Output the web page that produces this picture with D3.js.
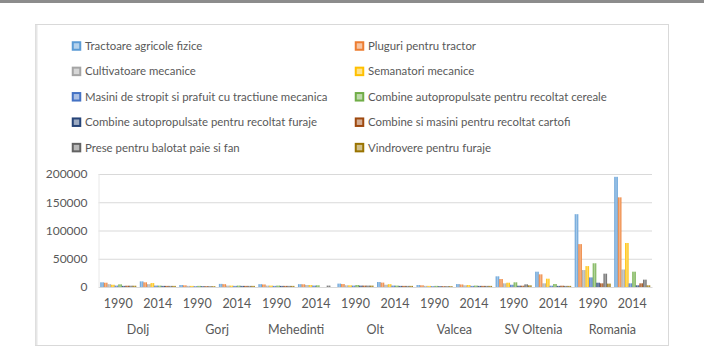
<!DOCTYPE html>
<html>
<head>
<meta charset="utf-8">
<script src="https://cdn.jsdelivr.net/npm/d3@7"></script>
<style>
  body { margin: 0; background: #fff; }
  text { font-family: Lato, "Open Sans", sans-serif; fill: #595959; }
</style>
</head>
<body>
<svg id="chart" width="704" height="348"></svg>
<script>
// categories: region + year
var regions = ['Dolj', 'Gorj', 'Mehedinti', 'Olt', 'Valcea', 'SV Oltenia', 'Romania'];
var years = ['1990', '2014'];
var seriesNames = [
    'Tractoare agricole fizice', 'Pluguri pentru tractor',
    'Cultivatoare mecanice', 'Semanatori mecanice',
    'Masini de stropit si prafuit cu tractiune mecanica', 'Combine autopropulsate pentru recoltat cereale',
    'Combine autopropulsate pentru recoltat furaje', 'Combine si masini pentru recoltat cartofi',
    'Prese pentru balotat paie si fan', 'Vindrovere pentru furaje'
];
var colors = ['#5b9bd5', '#ed7d31', '#a5a5a5', '#ffc000', '#4472c4', '#70ad47', '#264478', '#9e480e', '#636363', '#997300'];
var yTicks = [0, 50000, 100000, 150000, 200000];

// values per series, order: Dolj 1990, Dolj 2014, Gorj 1990, Gorj 2014, Mehedinti 1990, Mehedinti 2014,
// Olt 1990, Olt 2014, Valcea 1990, Valcea 2014, SV Oltenia 1990, SV Oltenia 2014, Romania 1990, Romania 2014
var tractoare    = [8300, 10000, 3500, 5500, 5000, 5000, 6000, 8800, 3500, 5200, 18900, 27100, 128900, 195000];
var pluguri      = [7600, 8300, 3000, 5000, 4500, 4800, 5200, 7800, 3000, 4500, 14100, 22400, 75900, 158700];
var cultivatoare = [5000, 5000, 2000, 2500, 2500, 3500, 3000, 4000, 2000, 3000, 6500, 6500, 30000, 31000];
var semanatori   = [4000, 7000, 2000, 2500, 2500, 3500, 3000, 5000, 2000, 3500, 7600, 14700, 37000, 77900];
var stropit      = [2500, 2500, 1500, 2000, 2000, 2500, 2500, 2500, 1500, 2000, 4000, 2300, 17000, 6500];
var cereale      = [4700, 2500, 2000, 2500, 2500, 3000, 3500, 2500, 2000, 2500, 8300, 5300, 42000, 27100];
var furaje       = [2000, 2000, 1500, 2000, 2000, 0, 2500, 2000, 1500, 2000, 2300, 2000, 7600, 3000];
var cartofi      = [2300, 2000, 1500, 2000, 2000, 0, 2500, 2000, 1500, 2000, 2300, 2300, 6500, 6500];
var prese        = [2300, 2000, 1500, 2000, 2000, 2500, 2500, 2000, 1500, 2000, 4700, 2000, 23600, 13000];
var vindrovere   = [2300, 2000, 1500, 2000, 2000, 0, 2500, 2000, 1500, 2000, 3000, 2000, 6000, 3000];
var seriesValues = [tractoare, pluguri, cultivatoare, semanatori, stropit, cereale, furaje, cartofi, prese, vindrovere];

var svg = d3.select('#chart');

// top rule and outer frame
svg.append('rect').attr('x', 0).attr('y', 0).attr('width', 704).attr('height', 3).attr('fill', '#8c8c8c');
svg.append('rect').attr('x', 35.5).attr('y', 24.5).attr('width', 633).attr('height', 321)
    .attr('fill', '#fff').attr('stroke', '#d9d9d9');
svg.append('line').attr('x1', 36.5).attr('x2', 36.5).attr('y1', 25).attr('y2', 345).attr('stroke', '#e6e6e6').attr('stroke-width', 2);

// gradients
var defs = svg.append('defs');
colors.forEach(function(c, i) {
    var g = defs.append('linearGradient').attr('id', 'grad' + i).attr('x1', '0%').attr('x2', '100%').attr('y1', '0%').attr('y2', '0%');
    g.append('stop').attr('offset', '0%').attr('stop-color', c);
    g.append('stop').attr('offset', '50%').attr('stop-color', d3.interpolateRgb(c, '#ffffff')(0.45));
    g.append('stop').attr('offset', '100%').attr('stop-color', c);
});

// legend
var legend = svg.append('g');
seriesNames.forEach(function(name, i) {
    var col = i % 2, row = Math.floor(i / 2);
    var lx = col === 0 ? 72 : 355;
    var ly = 46 + row * 25.4;
    var item = legend.append('g').attr('transform', 'translate(' + lx + ',' + ly + ')');
    item.append('rect').attr('x', 0.75).attr('y', -3.75).attr('width', 7.5).attr('height', 7.5)
        .attr('fill', d3.interpolateRgb(colors[i], '#ffffff')(0.55)).attr('stroke', colors[i]).attr('stroke-width', 2);
    item.append('text').attr('x', 13).attr('y', 0).attr('dy', '0.35em').attr('font-size', '11.4px').text(name);
});

// plot area
var margin = { left: 98.5, right: 52, top: 174, bottom: 61 };
var width = 704 - margin.left - margin.right;
var height = 348 - margin.top - margin.bottom;
var g = svg.append('g').attr('transform', 'translate(' + margin.left + ',' + margin.top + ')');

var keys = [];
regions.forEach(function(r) { years.forEach(function(y) { keys.push(r + '|' + y); }); });

var x0 = d3.scaleBand().domain(keys).range([0, width]).paddingInner(0.09).paddingOuter(0.045);
var x1 = d3.scaleBand().domain(d3.range(seriesNames.length)).range([0, x0.bandwidth()]);
var y = d3.scaleLinear().domain([0, 200000]).range([height, 0]);
var xr = d3.scaleBand().domain(regions).range([0, width]);

// gridlines + y labels
var yAxis = g.append('g').call(d3.axisLeft(y).tickValues(yTicks).tickSize(-width).tickPadding(11).tickFormat(d3.format('d')));
yAxis.select('.domain').remove();
yAxis.selectAll('line').attr('stroke', '#d9d9d9');
yAxis.selectAll('text').attr('font-size', '12px').attr('font-family', 'Lato, sans-serif').attr('fill', '#595959');
g.append('line').attr('x1', 0.5).attr('x2', 0.5).attr('y1', 0).attr('y2', height).attr('stroke', '#e8e8e8');

// bars
keys.forEach(function(k, ki) {
    var grp = g.append('g').attr('transform', 'translate(' + x0(k) + ',0)');
    seriesValues.forEach(function(vals, si) {
        var v = vals[ki];
        if (!v) return;
        grp.append('rect').attr('x', x1(si)).attr('y', y(v)).attr('width', x1.bandwidth()).attr('height', height - y(v))
            .attr('fill', 'url(#grad' + si + ')');
    });
});

// x axis: years
var xAxis = g.append('g').attr('transform', 'translate(0,' + height + ')')
    .call(d3.axisBottom(x0).tickSize(0).tickPadding(12).tickFormat(function(d) { return d.split('|')[1]; }));
xAxis.select('.domain').attr('stroke', '#d9d9d9');
xAxis.selectAll('text').attr('font-size', '12.5px').attr('font-family', 'Lato, sans-serif').attr('fill', '#595959');

// x axis: regions
var rAxis = g.append('g').attr('transform', 'translate(0,' + (height + 26) + ')')
    .call(d3.axisBottom(xr).tickSize(0).tickPadding(12));
rAxis.select('.domain').remove();
rAxis.selectAll('text').attr('font-size', '12.5px').attr('font-family', 'Lato, sans-serif').attr('fill', '#595959');
</script>
</body>
</html>
